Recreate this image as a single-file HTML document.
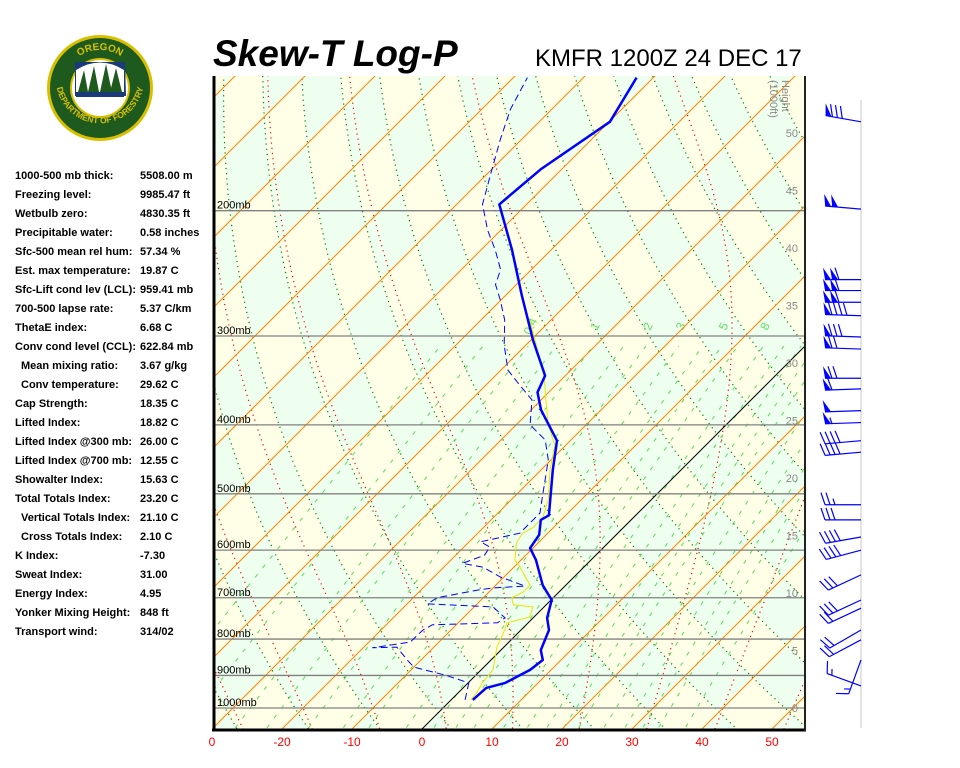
<!DOCTYPE html>
<html><head><meta charset="utf-8">
<style>
html,body{margin:0;padding:0;background:#fff;}
body{width:960px;height:768px;position:relative;overflow:hidden;font-family:"Liberation Sans",Arial,sans-serif;}
#bg{position:absolute;left:213px;top:76px;}
#chart{position:absolute;left:0;top:0;}
.stat{position:absolute;font-size:11px;font-weight:bold;color:#000;white-space:nowrap;}
</style></head>
<body>
<canvas id="bg" width="592" height="653"></canvas>
<svg id="chart" width="960" height="768" xmlns="http://www.w3.org/2000/svg">
  <defs><clipPath id="plotclip"><rect x="213" y="76" width="592" height="653"/></clipPath>
  <path id="arcTop" d="M62,88 A38,38 0 0 1 138,88"/>
  <path id="arcBot" d="M57,70 A44,44 0 1 0 143,70"/>
  </defs>
  <g id="logo">
    <circle cx="100" cy="88" r="53" fill="#d8c000"/>
    <circle cx="100" cy="88" r="50" fill="#1e5a1e"/>
    <circle cx="100" cy="88" r="30" fill="#d8c000"/>
    <circle cx="100" cy="88" r="28" fill="#fff"/>
    <path d="M75,62 L125,62 L126,96 L75,96 Z" fill="#1a3a7a"/>
    <path d="M76,70 Q100,55 124,70 L124,92 L76,92 Z" fill="#fff"/>
    <path d="M78,92 L84,70 L88,92 Z M88,92 L94,66 L99,92 Z M100,92 L106,64 L112,92 Z M110,92 L116,68 L122,92 Z" fill="#1e5a1e"/>
    <path d="M76,92 L124,92 L124,97 L76,97 Z" fill="#1a3a7a"/>
    <text font-family="Liberation Sans, sans-serif" font-size="10" font-weight="bold" fill="#d8c000"><textPath href="#arcTop" startOffset="50%" text-anchor="middle">OREGON</textPath></text>
    <text font-family="Liberation Sans, sans-serif" font-size="8.5" font-weight="bold" fill="#d8c000"><textPath href="#arcBot" startOffset="50%" text-anchor="middle">DEPARTMENT OF FORESTRY</textPath></text>
  </g>
  <text x="213" y="66" font-family="Liberation Sans, sans-serif" font-size="37" font-weight="bold" font-style="italic">Skew-T Log-P</text>
  <text x="535" y="66" font-family="Liberation Sans, sans-serif" font-size="24">KMFR 1200Z 24 DEC 17</text>
  <g id="plot" clip-path="url(#plotclip)"></g>
  <g id="overlay"></g>
  <g id="winds"></g>
</svg>
<div id="stats"></div>
<script>
// ---- data ----
const tempP = [974,937,922,884,856,829,777,747,705,672,619,596,571,544,536,463,421,381,360,341,304,263,227,196,175,150,130];
const tempT = [3.1,3.3,5.3,7.0,7.4,5.7,4.0,2.0,0.1,-3.3,-7.9,-10.4,-11.0,-12.9,-12.4,-18.3,-21.9,-28.6,-31.6,-32.9,-39.7,-47.7,-55.6,-63.9,-63.0,-59.9,-62.4];
const dewP = [974,922,899,876,859,821,823,808,777,764,759,747,721,714,700,683,678,674,654,634,626,610,594,584,568,550,532,510,448,420,400,369,352,335,309,285,267,254,242,227,213,196,178,159,144,130];
const dewT = [2.0,0.1,-4.4,-10,-11.7,-15.3,-18.7,-14.1,-14,-13.4,-4.4,-4,-7.3,-17.1,-16.6,-12,-10,-5.7,-10.6,-14.4,-17.9,-15.9,-16.3,-18.4,-14,-14,-14,-15.6,-20.4,-23.7,-28,-31.3,-35.1,-39,-43.1,-46.6,-50.1,-53,-54.4,-58,-61.9,-66.3,-69.4,-73,-75.9,-78];
const wbP = [974,950,919,884,821,784,759,745,721,716,700,687,672,634,619,586,568,558,539,510,463,427,400,363,344,304,285];
const wbT = [2.8,2.6,2,1.7,-1,-2.1,-3,-0.6,-1.6,-4.7,-5.9,-5.1,-5.1,-9.1,-10.9,-13.1,-13.6,-12.9,-13,-14.7,-18.7,-21.6,-25.4,-30.1,-32.6,-39.4,-43];
const windP = [150,199,250,259,269,281,301,313,344,356,382,397,421,437,518,544,575,600,650,705,724,777,802,856,931];
const windDir = [280,275,270,270,270,272,272,272,270,268,268,268,265,265,270,270,260,255,245,245,245,240,242,200,290];
const windSpd = [80,100,110,110,110,90,80,70,70,60,50,55,40,40,25,30,40,40,30,30,20,20,20,15,15];
const pressureLevels = [200,300,400,500,600,700,800,900,1000];
const tempTicks = [-30,-20,-10,0,10,20,30,40,50];
const tempTickLabels = ["0","-20","-10","0","10","20","30","40","50"];
const heightTicks = [0,5,10,15,20,25,30,35,40,45,50];
const mixRatios = [0.1,0.2,0.4,0.6,1,1.5,2,3,4,5,6,8,10,12,14,16,20,24,28,32,40];
const mixLabels = [0.4,1,2,3,5,8];
const statLabels = ["1000-500 mb thick:","Freezing level:","Wetbulb zero:","Precipitable water:","Sfc-500 mean rel hum:","Est. max temperature:","Sfc-Lift cond lev (LCL):","700-500 lapse rate:","ThetaE index:","Conv cond level (CCL):","  Mean mixing ratio:","  Conv temperature:","Cap Strength:","Lifted Index:","Lifted Index @300 mb:","Lifted Index @700 mb:","Showalter Index:","Total Totals Index:","  Vertical Totals Index:","  Cross Totals Index:","K Index:","Sweat Index:","Energy Index:","Yonker Mixing Height:","Transport wind:"];
const statValues = ["5508.00 m","9985.47 ft","4830.35 ft","0.58 inches","57.34 %","19.87 C","959.41 mb","5.37 C/km","6.68 C","622.84 mb","3.67 g/kg","29.62 C","18.35 C","18.82 C","26.00 C","12.55 C","15.63 C","23.20 C","21.10 C","2.10 C","-7.30","31.00","4.95","848 ft","314/02"];

// ---- axes ----
const L=213,R=805,T0=76,B=729;
function Y(p){return 708-309*Math.log(1000/p);}
function X(t,p){return 443+7*t+(708-Y(p));}
function pFromY(y){return 1000*Math.exp(-(708-y)/309);}
function tFromXY(x,y){return (x-443-(708-y))/7;}
const NS="http://www.w3.org/2000/svg";
function mk(tag,attrs,parent){const e=document.createElementNS(NS,tag);for(const k in attrs)e.setAttribute(k,attrs[k]);parent.appendChild(e);return e;}
const plot=document.getElementById('plot'),overlay=document.getElementById('overlay'),winds=document.getElementById('winds');

// background checkerboard
(function(){
  const c=document.getElementById('bg'),ctx=c.getContext('2d');
  const img=ctx.createImageData(592,653);
  for(let j=0;j<653;j++){const y=T0+j+0.5;const p=pFromY(y);const f=Math.pow(1000/p,0.286);
    for(let i=0;i<592;i++){const x=L+i+0.5;const t=tFromXY(x,y);
      const tb=Math.floor(t/10);const th=(t+273.15)*f;const hb=Math.floor((th-302)/10);
      const g=((tb+hb)%2+2)%2===0;const k=(j*592+i)*4;
      if(g){img.data[k]=239;img.data[k+1]=255;img.data[k+2]=239;}else{img.data[k]=255;img.data[k+1]=255;img.data[k+2]=232;}
      img.data[k+3]=255;}}
  ctx.putImageData(img,0,0);
})();

function polyline(pts,attrs,parent){return mk('polyline',Object.assign({points:pts.map(q=>q[0].toFixed(1)+','+q[1].toFixed(1)).join(' '),fill:'none'},attrs),parent);}

// dry adiabats (green dotted)
for(let th=192;th<=502;th+=10){const pts=[];for(let p=1100;p>=110;p-=10){const t=th*Math.pow(p/1000,0.286)-273.15;pts.push([X(t,p),Y(p)]);}
  const el=polyline(pts,{stroke:'#008000','stroke-width':1.2,'stroke-dasharray':'1.2 4'},plot);
  
  }
// moist adiabats (red dotted)
function es(tc){return 6.112*Math.exp(17.67*tc/(tc+243.5));}
function dTdlnp(T,p){const rs=0.622*es(T-273.15)/(p-es(T-273.15));return (287*T+2.5e6*rs)/(1004+2.5e6*2.5e6*rs*0.622/(287*T*T));}
for(let tw=-40;tw<=50;tw+=10){const up=[];let T=tw+273.15,p=1000;const h=0.005;
  while(p>110){up.push([X(T-273.15,p),Y(p)]);const lp=Math.log(p);T=T+dTdlnp(T,p)*(-h);p=Math.exp(lp-h);}
  const dn=[];T=tw+273.15;p=1000;while(p<1100){const lp=Math.log(p);T=T+dTdlnp(T,p)*h;p=Math.exp(lp+h);dn.push([X(T-273.15,p),Y(p)]);}
  const el=polyline(dn.reverse().concat(up),{stroke:'#ff0000','stroke-width':1.2,'stroke-dasharray':'1.2 4'},plot);
  
  }
// mixing ratio lines
function tdFromW(w,p){const e=w*p/(622+w);const a=Math.log(e/6.112);return 243.5*a/(17.67-a);}
mixRatios.forEach(w=>{const pts=[];for(let p=1100;p>=310;p-=10)pts.push([X(tdFromW(w,p),p),Y(p)]);
  const el=polyline(pts,{stroke:'#55dd55','stroke-width':1,'stroke-dasharray':'4 8'},plot);
  
  });
mixLabels.forEach(w=>{const x=X(tdFromW(w,300),300);const t=mk('text',{x:x-2,y:328,'font-size':12,fill:'#66dd66','font-family':'Liberation Sans, sans-serif',transform:`rotate(-65 ${x-2} 328)`,'text-anchor':'middle'},plot);t.textContent=String(w);
  
  });
// isotherms
for(let t=-120;t<=60;t+=10){const el=mk('line',{x1:X(t,1100),y1:Y(1100),x2:X(t,120),y2:Y(120),stroke:t===0?'#000':'#ff8000','stroke-width':1},plot);
  
  }
// pressure lines
pressureLevels.forEach(p=>{const y=Y(p);const el=mk('line',{x1:L,y1:y,x2:R,y2:y,stroke:'#808080','stroke-width':1.3},plot);
  
  
  const t=mk('text',{x:217,y:y-2,'font-size':11,fill:'#000','font-family':'Liberation Sans, sans-serif'},plot);t.textContent=p+'mb';
  
  });
// height labels
heightTicks.forEach((h,i)=>{const t=mk('text',{x:798,y:712-h*11.5,'font-size':11,fill:'#888','text-anchor':'end','font-family':'Liberation Sans, sans-serif'},plot);t.textContent=String(h);
  
  });
{const t=mk('text',{x:782,y:80,'font-size':11,fill:'#888','font-family':'Liberation Sans, sans-serif',transform:'rotate(90 782 80)'},plot);t.textContent='Height';
 
 
 const t2=mk('text',{x:770,y:80,'font-size':11,fill:'#888','font-family':'Liberation Sans, sans-serif',transform:'rotate(90 770 80)'},plot);t2.textContent='(1000ft)';
 
 }
// profiles
function profile(P,Tv,attrs,name){const el=polyline(P.map((p,i)=>[X(Tv[i],p),Y(p)]),attrs,plot);
  
  }
profile(wbP,wbT,{stroke:'#e6e600','stroke-width':1},'wetbulb-profile');
profile(dewP,dewT,{stroke:'#0000ff','stroke-width':1,'stroke-dasharray':'7 4'},'dewpoint-profile');
profile(tempP,tempT,{stroke:'#0000ff','stroke-width':2.5,'stroke-linejoin':'round'},'temperature-profile');

// frame
{const a=mk('line',{x1:214,y1:76,x2:214,y2:731,stroke:'#000','stroke-width':3},overlay);
 const b=mk('line',{x1:212,y1:730,x2:806,y2:730,stroke:'#000','stroke-width':3},overlay);
 const c=mk('line',{x1:805,y1:76,x2:805,y2:731,stroke:'#222','stroke-width':2},overlay);
 const d=mk('line',{x1:861,y1:100,x2:861,y2:728,stroke:'#e4e4e4','stroke-width':2},overlay);}
tempTicks.forEach((t,i)=>{const x=443+7*t-21;const el=mk('text',{x:x,y:746,'font-size':12,fill:'#ff0000','text-anchor':'middle','font-family':'Liberation Sans, sans-serif'},overlay);el.textContent=tempTickLabels[i];
  
  });

// wind barbs
windP.forEach((p,i)=>{const y=Y(p),x=861;const a=windDir[i]*Math.PI/180;const Ls=36;
  const ux=Math.sin(a),uy=-Math.cos(a);const tx=x+ux*Ls,ty=y+uy*Ls;
  const g=mk('g',{},winds);
  
  
  mk('line',{x1:x,y1:y,x2:tx,y2:ty,stroke:'#0000ff','stroke-width':1.2},g);
  const px=-uy,py=ux; const nx=uy,ny=-ux;
  const sx=(ny<0)?nx:px, sy=(ny<0)?ny:py;
  let s=windSpd[i],d=0;
  while(s>=50){const bx=tx-ux*d,by=ty-uy*d;mk('polygon',{points:`${bx},${by} ${bx+sx*12+ux*2},${by+sy*12+uy*2} ${bx-ux*6},${by-uy*6}`,fill:'#0000ff'},g);d+=7;s-=50;}
  while(s>=10){const bx=tx-ux*d,by=ty-uy*d;mk('line',{x1:bx,y1:by,x2:bx+sx*12+ux*4,y2:by+sy*12+uy*4,stroke:'#0000ff','stroke-width':1.2},g);d+=5;s-=10;}
  if(s>=5){if(d===0)d=4;const bx=tx-ux*d,by=ty-uy*d;mk('line',{x1:bx,y1:by,x2:bx+sx*6+ux*2,y2:by+sy*6+uy*2,stroke:'#0000ff','stroke-width':1.2},g);}
});

// stats
const st=document.getElementById('stats');
statLabels.forEach((lab,i)=>{const y=170+i*19;
  const a=document.createElement('div');a.className='stat';a.style.left=(lab.startsWith('  ')?21:15)+'px';a.style.top=y+'px';a.textContent=lab.trim();
  
  
  st.appendChild(a);
  const b=document.createElement('div');b.className='stat';b.style.left='140px';b.style.top=y+'px';b.textContent=statValues[i];
  
  
  st.appendChild(b);});
</script>
</body></html>
